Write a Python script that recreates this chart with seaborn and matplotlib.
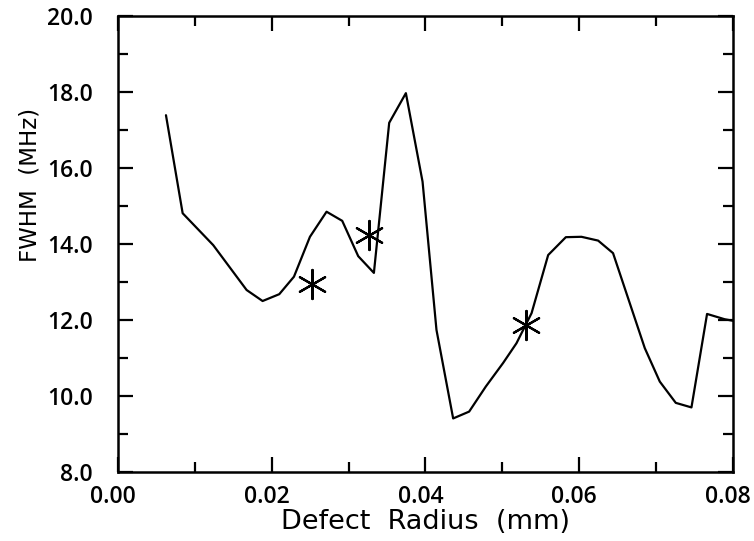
import matplotlib
matplotlib.use("Agg")
import matplotlib.pyplot as plt
import matplotlib.transforms as mtransforms
from matplotlib import font_manager
import seaborn as sns
import pandas as pd
from matplotlib.ticker import MultipleLocator

radius = [0.00624, 0.00841, 0.01239, 0.01673, 0.01881, 0.02098, 0.02289, 0.02497,
          0.02713, 0.02917, 0.03125, 0.03329, 0.03528, 0.03745, 0.03962, 0.04143,
          0.04360, 0.04568, 0.04785, 0.05010, 0.05184, 0.05380, 0.05596, 0.05826,
          0.06029, 0.06246, 0.06440, 0.06853, 0.07048, 0.07256, 0.07460, 0.07663,
          0.07893, 0.08000]
fwhm = [17.39, 14.81, 13.97, 12.79, 12.50, 12.68, 13.14, 14.19,
        14.85, 14.61, 13.68, 13.24, 17.19, 17.97, 15.64, 11.74,
        9.41, 9.59, 10.25, 10.87, 11.39, 12.18, 13.71, 14.18,
        14.19, 14.09, 13.76, 11.26, 10.38, 9.82, 9.70, 12.16,
        12.02, 11.98]

meas_radius = [0.02519, 0.03264, 0.05314]
meas_fwhm = [12.94, 14.25, 11.87]

xticks = [0.00, 0.02, 0.04, 0.06, 0.08]
yticks = [8.0, 10.0, 12.0, 14.0, 16.0, 18.0, 20.0]

sns.set_theme(style="white")
plt.rcParams['font.family'] = ['DejaVu Sans']
plt.rcParams['text.color'] = 'black'
plt.rcParams['axes.labelcolor'] = 'black'
plt.rcParams['xtick.color'] = 'black'
plt.rcParams['ytick.color'] = 'black'

tick_fp = font_manager.FontProperties(family=["Open Sans", "DejaVu Sans"],
                                      weight="semibold", size=16.5)

fig = plt.figure(figsize=(7.54, 5.41), dpi=100)
ax = fig.add_axes([0.1565, 0.1275, 0.9721 - 0.1565, 0.9704 - 0.1275])

curve = pd.DataFrame({"r": radius, "f": fwhm})
meas = pd.DataFrame({"r": meas_radius, "f": meas_fwhm})

sns.lineplot(data=curve, x="r", y="f", sort=False, estimator=None,
             color="black", linewidth=1.6, ax=ax)
sns.scatterplot(data=meas, x="r", y="f", marker=(6, 2, 0), s=440,
                color="black", linewidth=1.6, ax=ax, zorder=3)

ax.set_xlim(0.0, 0.08)
ax.set_ylim(8.0, 20.0)
ax.set_xticks(xticks)
ax.set_yticks(yticks)
ax.set_xticklabels([f"{v:.2f}" for v in xticks])
ax.set_yticklabels([f"{v:.1f}" for v in yticks])
ax.xaxis.set_minor_locator(MultipleLocator(0.01))
ax.yaxis.set_minor_locator(MultipleLocator(1.0))

ax.tick_params(which="both", direction="in", top=True, right=True,
               bottom=True, left=True, width=1.6, colors="black")
ax.tick_params(which="major", length=11)
ax.tick_params(which="minor", length=7)
ax.tick_params(axis="x", which="major", pad=9)
ax.tick_params(axis="y", which="major", pad=18)
for lbl in ax.get_xticklabels() + ax.get_yticklabels():
    lbl.set_fontproperties(tick_fp)

for sp in ax.spines.values():
    sp.set_visible(True)
    sp.set_color("black")
    sp.set_linewidth(1.8)

ax.set_xlabel("Defect  Radius  (mm)", fontsize=19.5, labelpad=0)
ax.set_ylabel("FWHM  (MHz)", fontsize=16.5)
ax.yaxis.set_label_coords(-0.125, 0.63)
ax.grid(False)

shift = mtransforms.ScaledTranslation(-5 / 100, 0, fig.dpi_scale_trans)
for lbl in ax.get_xticklabels():
    lbl.set_transform(lbl.get_transform() + shift)

fig.savefig("out.png", dpi=100)
